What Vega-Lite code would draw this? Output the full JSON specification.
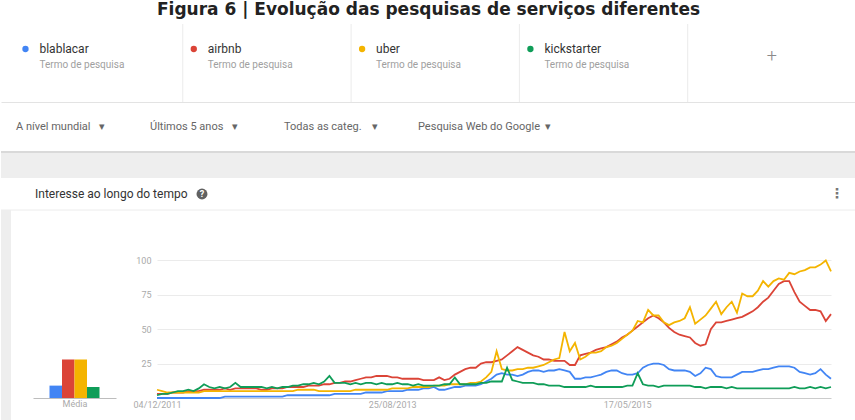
{
  "$schema": "https://vega.github.io/schema/vega-lite/v6.json",
  "background": "white",
  "padding": 0,
  "title": {"text": "Figura 6 | Evolução das pesquisas de serviços diferentes", "font": "DejaVu Sans", "fontSize": 17, "fontWeight": "bold", "color": "#222222", "anchor": "middle", "offset": 5},
  "datasets": {
    "tendencias": [
      {"semana":"2011-12-04","blablacar":0,"airbnb":3,"uber":6,"kickstarter":2},
      {"semana":"2011-12-18","blablacar":0,"airbnb":3,"uber":5,"kickstarter":3},
      {"semana":"2012-01-01","blablacar":0,"airbnb":3,"uber":4,"kickstarter":3},
      {"semana":"2012-01-15","blablacar":0,"airbnb":4,"uber":4,"kickstarter":4},
      {"semana":"2012-01-29","blablacar":0,"airbnb":4,"uber":4,"kickstarter":5},
      {"semana":"2012-02-12","blablacar":0,"airbnb":4,"uber":4,"kickstarter":5},
      {"semana":"2012-02-26","blablacar":0,"airbnb":5,"uber":4,"kickstarter":6},
      {"semana":"2012-03-11","blablacar":0,"airbnb":5,"uber":4,"kickstarter":5},
      {"semana":"2012-03-25","blablacar":0,"airbnb":5,"uber":4,"kickstarter":7},
      {"semana":"2012-04-08","blablacar":0,"airbnb":6,"uber":5,"kickstarter":10},
      {"semana":"2012-04-22","blablacar":0,"airbnb":6,"uber":5,"kickstarter":8},
      {"semana":"2012-05-06","blablacar":0,"airbnb":6,"uber":5,"kickstarter":7},
      {"semana":"2012-05-20","blablacar":0,"airbnb":6,"uber":5,"kickstarter":8},
      {"semana":"2012-06-03","blablacar":1,"airbnb":7,"uber":5,"kickstarter":7},
      {"semana":"2012-06-17","blablacar":1,"airbnb":6,"uber":5,"kickstarter":8},
      {"semana":"2012-07-01","blablacar":1,"airbnb":7,"uber":5,"kickstarter":11},
      {"semana":"2012-07-15","blablacar":1,"airbnb":7,"uber":5,"kickstarter":8},
      {"semana":"2012-07-29","blablacar":1,"airbnb":7,"uber":5,"kickstarter":8},
      {"semana":"2012-08-12","blablacar":1,"airbnb":7,"uber":5,"kickstarter":8},
      {"semana":"2012-08-26","blablacar":1,"airbnb":7,"uber":5,"kickstarter":8},
      {"semana":"2012-09-09","blablacar":1,"airbnb":6,"uber":5,"kickstarter":8},
      {"semana":"2012-09-23","blablacar":1,"airbnb":6,"uber":5,"kickstarter":7},
      {"semana":"2012-10-07","blablacar":1,"airbnb":7,"uber":5,"kickstarter":8},
      {"semana":"2012-10-21","blablacar":1,"airbnb":7,"uber":5,"kickstarter":7},
      {"semana":"2012-11-04","blablacar":1,"airbnb":7,"uber":5,"kickstarter":8},
      {"semana":"2012-11-18","blablacar":2,"airbnb":8,"uber":5,"kickstarter":8},
      {"semana":"2012-12-02","blablacar":2,"airbnb":8,"uber":5,"kickstarter":9},
      {"semana":"2012-12-16","blablacar":2,"airbnb":8,"uber":6,"kickstarter":9},
      {"semana":"2012-12-30","blablacar":2,"airbnb":8,"uber":6,"kickstarter":10},
      {"semana":"2013-01-13","blablacar":2,"airbnb":9,"uber":6,"kickstarter":10},
      {"semana":"2013-01-27","blablacar":2,"airbnb":9,"uber":6,"kickstarter":11},
      {"semana":"2013-02-10","blablacar":2,"airbnb":9,"uber":5,"kickstarter":10},
      {"semana":"2013-02-24","blablacar":2,"airbnb":10,"uber":5,"kickstarter":12},
      {"semana":"2013-03-10","blablacar":2,"airbnb":10,"uber":5,"kickstarter":16},
      {"semana":"2013-03-24","blablacar":3,"airbnb":11,"uber":5,"kickstarter":11},
      {"semana":"2013-04-07","blablacar":3,"airbnb":11,"uber":5,"kickstarter":11},
      {"semana":"2013-04-21","blablacar":3,"airbnb":12,"uber":5,"kickstarter":11},
      {"semana":"2013-05-05","blablacar":3,"airbnb":12,"uber":5,"kickstarter":10},
      {"semana":"2013-05-19","blablacar":3,"airbnb":13,"uber":6,"kickstarter":11},
      {"semana":"2013-06-02","blablacar":3,"airbnb":14,"uber":6,"kickstarter":10},
      {"semana":"2013-06-16","blablacar":4,"airbnb":15,"uber":6,"kickstarter":11},
      {"semana":"2013-06-30","blablacar":4,"airbnb":15,"uber":6,"kickstarter":11},
      {"semana":"2013-07-14","blablacar":4,"airbnb":16,"uber":6,"kickstarter":10},
      {"semana":"2013-07-28","blablacar":4,"airbnb":16,"uber":6,"kickstarter":11},
      {"semana":"2013-08-11","blablacar":5,"airbnb":16,"uber":6,"kickstarter":10},
      {"semana":"2013-08-25","blablacar":5,"airbnb":15,"uber":7,"kickstarter":10},
      {"semana":"2013-09-08","blablacar":5,"airbnb":15,"uber":7,"kickstarter":11},
      {"semana":"2013-09-22","blablacar":5,"airbnb":14,"uber":7,"kickstarter":10},
      {"semana":"2013-10-06","blablacar":6,"airbnb":14,"uber":7,"kickstarter":10},
      {"semana":"2013-10-20","blablacar":6,"airbnb":14,"uber":8,"kickstarter":9},
      {"semana":"2013-11-03","blablacar":6,"airbnb":14,"uber":8,"kickstarter":10},
      {"semana":"2013-11-17","blablacar":7,"airbnb":13,"uber":8,"kickstarter":9},
      {"semana":"2013-12-01","blablacar":7,"airbnb":13,"uber":8,"kickstarter":9},
      {"semana":"2013-12-15","blablacar":8,"airbnb":13,"uber":9,"kickstarter":9},
      {"semana":"2013-12-29","blablacar":6,"airbnb":15,"uber":9,"kickstarter":9},
      {"semana":"2014-01-12","blablacar":6,"airbnb":13,"uber":9,"kickstarter":10},
      {"semana":"2014-01-26","blablacar":7,"airbnb":14,"uber":10,"kickstarter":10},
      {"semana":"2014-02-09","blablacar":8,"airbnb":17,"uber":10,"kickstarter":15},
      {"semana":"2014-02-23","blablacar":8,"airbnb":19,"uber":10,"kickstarter":10},
      {"semana":"2014-03-09","blablacar":9,"airbnb":21,"uber":10,"kickstarter":10},
      {"semana":"2014-03-23","blablacar":9,"airbnb":22,"uber":11,"kickstarter":10},
      {"semana":"2014-04-06","blablacar":9,"airbnb":22,"uber":11,"kickstarter":10},
      {"semana":"2014-04-20","blablacar":10,"airbnb":25,"uber":12,"kickstarter":11},
      {"semana":"2014-05-04","blablacar":12,"airbnb":26,"uber":15,"kickstarter":11},
      {"semana":"2014-05-18","blablacar":14,"airbnb":26,"uber":19,"kickstarter":12},
      {"semana":"2014-06-01","blablacar":17,"airbnb":27,"uber":34,"kickstarter":12},
      {"semana":"2014-06-15","blablacar":18,"airbnb":28,"uber":21,"kickstarter":12},
      {"semana":"2014-06-29","blablacar":17,"airbnb":31,"uber":20,"kickstarter":22},
      {"semana":"2014-07-13","blablacar":17,"airbnb":34,"uber":20,"kickstarter":13},
      {"semana":"2014-07-27","blablacar":16,"airbnb":37,"uber":21,"kickstarter":12},
      {"semana":"2014-08-10","blablacar":17,"airbnb":35,"uber":21,"kickstarter":11},
      {"semana":"2014-08-24","blablacar":19,"airbnb":33,"uber":22,"kickstarter":11},
      {"semana":"2014-09-07","blablacar":20,"airbnb":31,"uber":22,"kickstarter":11},
      {"semana":"2014-09-21","blablacar":20,"airbnb":30,"uber":23,"kickstarter":10},
      {"semana":"2014-10-05","blablacar":19,"airbnb":28,"uber":24,"kickstarter":10},
      {"semana":"2014-10-19","blablacar":20,"airbnb":28,"uber":26,"kickstarter":9},
      {"semana":"2014-11-02","blablacar":20,"airbnb":27,"uber":28,"kickstarter":9},
      {"semana":"2014-11-16","blablacar":21,"airbnb":27,"uber":29,"kickstarter":9},
      {"semana":"2014-11-30","blablacar":20,"airbnb":27,"uber":48,"kickstarter":8},
      {"semana":"2014-12-14","blablacar":19,"airbnb":24,"uber":34,"kickstarter":8},
      {"semana":"2014-12-28","blablacar":14,"airbnb":24,"uber":40,"kickstarter":8},
      {"semana":"2015-01-11","blablacar":14,"airbnb":31,"uber":28,"kickstarter":8},
      {"semana":"2015-01-25","blablacar":15,"airbnb":32,"uber":30,"kickstarter":8},
      {"semana":"2015-02-08","blablacar":15,"airbnb":33,"uber":33,"kickstarter":9},
      {"semana":"2015-02-22","blablacar":16,"airbnb":35,"uber":33,"kickstarter":8},
      {"semana":"2015-03-08","blablacar":17,"airbnb":36,"uber":34,"kickstarter":8},
      {"semana":"2015-03-22","blablacar":19,"airbnb":37,"uber":37,"kickstarter":8},
      {"semana":"2015-04-05","blablacar":20,"airbnb":39,"uber":38,"kickstarter":8},
      {"semana":"2015-04-19","blablacar":20,"airbnb":41,"uber":40,"kickstarter":8},
      {"semana":"2015-05-03","blablacar":18,"airbnb":44,"uber":43,"kickstarter":8},
      {"semana":"2015-05-17","blablacar":17,"airbnb":46,"uber":46,"kickstarter":9},
      {"semana":"2015-05-31","blablacar":17,"airbnb":49,"uber":49,"kickstarter":9},
      {"semana":"2015-06-14","blablacar":18,"airbnb":52,"uber":56,"kickstarter":18},
      {"semana":"2015-06-28","blablacar":22,"airbnb":55,"uber":55,"kickstarter":10},
      {"semana":"2015-07-12","blablacar":24,"airbnb":58,"uber":64,"kickstarter":9},
      {"semana":"2015-07-26","blablacar":25,"airbnb":60,"uber":60,"kickstarter":9},
      {"semana":"2015-08-09","blablacar":25,"airbnb":58,"uber":60,"kickstarter":8},
      {"semana":"2015-08-23","blablacar":24,"airbnb":55,"uber":55,"kickstarter":9},
      {"semana":"2015-09-06","blablacar":21,"airbnb":51,"uber":53,"kickstarter":9},
      {"semana":"2015-09-20","blablacar":20,"airbnb":48,"uber":55,"kickstarter":9},
      {"semana":"2015-10-04","blablacar":20,"airbnb":46,"uber":56,"kickstarter":9},
      {"semana":"2015-10-18","blablacar":20,"airbnb":45,"uber":58,"kickstarter":9},
      {"semana":"2015-11-01","blablacar":19,"airbnb":44,"uber":66,"kickstarter":9},
      {"semana":"2015-11-15","blablacar":16,"airbnb":40,"uber":54,"kickstarter":8},
      {"semana":"2015-11-29","blablacar":18,"airbnb":38,"uber":57,"kickstarter":8},
      {"semana":"2015-12-13","blablacar":22,"airbnb":39,"uber":60,"kickstarter":7},
      {"semana":"2015-12-27","blablacar":21,"airbnb":50,"uber":65,"kickstarter":8},
      {"semana":"2016-01-10","blablacar":16,"airbnb":55,"uber":70,"kickstarter":8},
      {"semana":"2016-01-24","blablacar":15,"airbnb":55,"uber":61,"kickstarter":8},
      {"semana":"2016-02-07","blablacar":15,"airbnb":56,"uber":66,"kickstarter":7},
      {"semana":"2016-02-21","blablacar":15,"airbnb":57,"uber":70,"kickstarter":8},
      {"semana":"2016-03-06","blablacar":17,"airbnb":58,"uber":62,"kickstarter":7},
      {"semana":"2016-03-20","blablacar":19,"airbnb":59,"uber":76,"kickstarter":7},
      {"semana":"2016-04-03","blablacar":19,"airbnb":61,"uber":74,"kickstarter":7},
      {"semana":"2016-04-17","blablacar":19,"airbnb":63,"uber":74,"kickstarter":7},
      {"semana":"2016-05-01","blablacar":20,"airbnb":66,"uber":78,"kickstarter":7},
      {"semana":"2016-05-15","blablacar":21,"airbnb":70,"uber":85,"kickstarter":7},
      {"semana":"2016-05-29","blablacar":21,"airbnb":73,"uber":81,"kickstarter":7},
      {"semana":"2016-06-12","blablacar":22,"airbnb":78,"uber":85,"kickstarter":7},
      {"semana":"2016-06-26","blablacar":23,"airbnb":83,"uber":87,"kickstarter":7},
      {"semana":"2016-07-10","blablacar":23,"airbnb":85,"uber":86,"kickstarter":7},
      {"semana":"2016-07-24","blablacar":23,"airbnb":85,"uber":91,"kickstarter":7},
      {"semana":"2016-08-07","blablacar":22,"airbnb":77,"uber":90,"kickstarter":8},
      {"semana":"2016-08-21","blablacar":19,"airbnb":70,"uber":92,"kickstarter":7},
      {"semana":"2016-09-04","blablacar":18,"airbnb":67,"uber":93,"kickstarter":7},
      {"semana":"2016-09-18","blablacar":17,"airbnb":64,"uber":95,"kickstarter":8},
      {"semana":"2016-10-02","blablacar":18,"airbnb":64,"uber":95,"kickstarter":7},
      {"semana":"2016-10-16","blablacar":21,"airbnb":63,"uber":97,"kickstarter":8},
      {"semana":"2016-10-30","blablacar":17,"airbnb":56,"uber":100,"kickstarter":7},
      {"semana":"2016-11-13","blablacar":14,"airbnb":61,"uber":92,"kickstarter":8}
    ]
  },
  "spacing": 0,
  "bounds": "flush",
  "vconcat": [
    {
      "width": 855,
      "height": 78,
      "data": {"values": [
        {"termo": "blablacar", "sub": "Termo de pesquisa"},
        {"termo": "airbnb", "sub": "Termo de pesquisa"},
        {"termo": "uber", "sub": "Termo de pesquisa"},
        {"termo": "kickstarter", "sub": "Termo de pesquisa"},
        {"termo": "+", "sub": ""}
      ]},
      "layer": [
        {
          "transform": [{"filter": "datum.termo !== 'blablacar'"}],
          "mark": {"type": "rule", "color": "#ebebeb", "strokeWidth": 1},
          "encoding": {
            "x": {"field": "termo", "type": "nominal", "bandPosition": 0,
              "scale": {"type": "band", "domain": ["blablacar", "airbnb", "uber", "kickstarter", "+"], "paddingInner": 0, "paddingOuter": 0.04, "align": 1},
              "axis": {"title": null, "labels": false, "ticks": false, "domain": true, "domainColor": "#e3e3e3", "grid": false}}
          }
        },
        {
          "transform": [{"filter": "datum.termo !== '+'"}],
          "mark": {"type": "point", "filled": true, "size": 40, "opacity": 1, "xOffset": 11, "yOffset": -14},
          "encoding": {
            "x": {"field": "termo", "type": "nominal", "bandPosition": 0},
            "color": {"field": "termo", "type": "nominal", "scale": {"domain": ["blablacar", "airbnb", "uber", "kickstarter"], "range": ["#4285f4", "#db4437", "#f4b400", "#0f9d58"]}, "legend": null}
          }
        },
        {
          "transform": [{"filter": "datum.termo !== '+'"}],
          "mark": {"type": "text", "align": "left", "baseline": "middle", "dx": 25, "dy": -14, "fontSize": 12, "color": "#333333", "font": "Roboto"},
          "encoding": {
            "x": {"field": "termo", "type": "nominal", "bandPosition": 0},
            "text": {"field": "termo"}
          }
        },
        {
          "transform": [{"filter": "datum.termo !== '+'"}],
          "mark": {"type": "text", "align": "left", "baseline": "middle", "dx": 25, "dy": 2, "fontSize": 10, "color": "#a0a0a0", "font": "Roboto"},
          "encoding": {
            "x": {"field": "termo", "type": "nominal", "bandPosition": 0},
            "text": {"field": "sub"}
          }
        },
        {
          "transform": [{"filter": "datum.termo === '+'"}],
          "mark": {"type": "text", "align": "center", "baseline": "middle", "dy": -6, "fontSize": 18, "color": "#8a8a8a", "font": "Roboto", "fontWeight": 300},
          "encoding": {
            "x": {"field": "termo", "type": "nominal", "bandPosition": 0.5},
            "text": {"field": "termo"}
          }
        }
      ]
    },
    {
      "width": 551,
      "height": 50,
      "data": {"values": [
        {"filtro": "A nível mundial\u00a0\u00a0\u00a0▾"},
        {"filtro": "Últimos 5 anos\u00a0\u00a0\u00a0▾"},
        {"filtro": "Todas as categ.\u00a0\u00a0\u00a0\u00a0▾"},
        {"filtro": "Pesquisa Web do Google\u00a0\u00a0▾"}
      ]},
      "mark": {"type": "text", "align": "left", "baseline": "middle", "fontSize": 11, "color": "#666666", "font": "Roboto"},
      "encoding": {
        "x": {"field": "filtro", "type": "nominal", "bandPosition": 0,
          "scale": {"type": "band", "domain": ["A nível mundial\u00a0\u00a0\u00a0▾", "Últimos 5 anos\u00a0\u00a0\u00a0▾", "Todas as categ.\u00a0\u00a0\u00a0\u00a0▾", "Pesquisa Web do Google\u00a0\u00a0▾"], "paddingInner": 0, "paddingOuter": 0.056, "align": 1},
          "axis": null},
        "text": {"field": "filtro"}
      }
    },
    {
      "width": 855,
      "height": 26,
      "data": {"values": [{"fundo": 1}]},
      "layer": [
        {"mark": {"type": "rect", "color": "#eeeeee"}, "encoding": {}},
        {
          "mark": {"type": "rule", "color": "#d9d9d9", "strokeWidth": 2},
          "encoding": {"y": {"datum": 1, "type": "quantitative", "scale": {"domain": [0, 1]}, "axis": null}}
        }
      ]
    },
    {
      "width": 855,
      "height": 32,
      "data": {"values": [{"rotulo": "Interesse ao longo do tempo"}]},
      "layer": [
        {
          "mark": {"type": "text", "align": "left", "baseline": "middle", "dx": -393.5, "fontSize": 12, "color": "#333333", "font": "Roboto"},
          "encoding": {"text": {"field": "rotulo"}}
        },
        {
          "mark": {"type": "point", "filled": true, "size": 120, "opacity": 1, "color": "#616161", "xOffset": -226.5},
          "encoding": {}
        },
        {
          "mark": {"type": "text", "align": "center", "baseline": "middle", "dx": -226.5, "fontSize": 9, "fontWeight": "bold", "color": "white", "text": "?", "font": "Roboto"},
          "encoding": {}
        },
        {
          "mark": {"type": "text", "align": "center", "baseline": "middle", "dx": 408.5, "fontSize": 14, "fontWeight": "bold", "color": "#777777", "text": "⋮", "font": "DejaVu Sans"},
          "encoding": {}
        },
        {
          "mark": {"type": "rule", "color": "#ececec", "strokeWidth": 1},
          "encoding": {"y": {"datum": 0, "type": "quantitative", "scale": {"domain": [0, 1]}, "axis": null}}
        }
      ]
    },
    {
      "spacing": 22,
      "bounds": "flush",
      "hconcat": [
        {
          "width": 10,
          "height": 212,
          "data": {"values": [{"fundo": 1}]},
          "mark": {"type": "rect", "color": "#eeeeee"},
          "encoding": {}
        },
        {
          "spacing": 41,
          "bounds": "flush",
          "hconcat": [
            {
              "width": 83,
              "height": 188,
              "data": {"values": [
                {"termo": "blablacar", "media": 9},
                {"termo": "airbnb", "media": 28},
                {"termo": "uber", "media": 28},
                {"termo": "kickstarter", "media": 8}
              ]},
              "mark": {"type": "bar"},
              "encoding": {
                "x": {"field": "termo", "type": "nominal",
                  "scale": {"type": "band", "domain": ["", "blablacar", "airbnb", "uber", "kickstarter", " "], "paddingInner": 0, "paddingOuter": 0.32},
                  "axis": {"title": "Média", "labels": false, "ticks": false, "domain": true, "domainColor": "#bdbdbd", "titleFontSize": 9, "titleColor": "#aaaaaa", "titleFontWeight": "normal", "titleFont": "Roboto", "titlePadding": 1}},
                "y": {"field": "media", "type": "quantitative", "scale": {"domain": [0, 136.7], "nice": false}, "axis": null},
                "color": {"field": "termo", "type": "nominal", "scale": {"domain": ["blablacar", "airbnb", "uber", "kickstarter"], "range": ["#4285f4", "#db4437", "#f4b400", "#0f9d58"]}, "legend": null}
              }
            },
            {
              "width": 674,
              "height": 188,
              "data": {"name": "tendencias"},
              "transform": [{"fold": ["blablacar", "airbnb", "uber", "kickstarter"], "as": ["termo", "valor"]}],
              "mark": {"type": "line", "strokeWidth": 1.8},
              "encoding": {
                "x": {"field": "semana", "type": "temporal",
                  "scale": {"type": "utc", "nice": false},
                  "axis": {"values": [{"year": 2011, "month": 12, "date": 4, "utc": true}, {"year": 2013, "month": 8, "date": 25, "utc": true}, {"year": 2015, "month": 5, "date": 17, "utc": true}],
                    "format": "%d/%m/%Y", "title": null, "grid": false, "ticks": false, "labelFlush": false, "labelOverlap": false,
                    "labelColor": "#aaaaaa", "labelFontSize": 9, "labelFont": "Roboto", "labelPadding": 2, "domainColor": "#cccccc"}},
                "y": {"field": "valor", "type": "quantitative", "scale": {"domain": [0, 136.7], "nice": false},
                  "axis": {"values": [25, 50, 75, 100], "title": null, "domain": false, "ticks": false, "labelPadding": 6,
                    "labelColor": "#aaaaaa", "labelFontSize": 9, "labelFont": "Roboto", "gridColor": "#ebebeb"}},
                "color": {"field": "termo", "type": "nominal", "sort": ["blablacar", "airbnb", "uber", "kickstarter"],
                  "scale": {"domain": ["blablacar", "airbnb", "uber", "kickstarter"], "range": ["#4285f4", "#db4437", "#f4b400", "#0f9d58"]}, "legend": null}
              }
            }
          ]
        }
      ]
    }
  ],
  "config": {
    "view": {"stroke": null},
    "font": "Roboto",
    "concat": {"spacing": 0}
  }
}
